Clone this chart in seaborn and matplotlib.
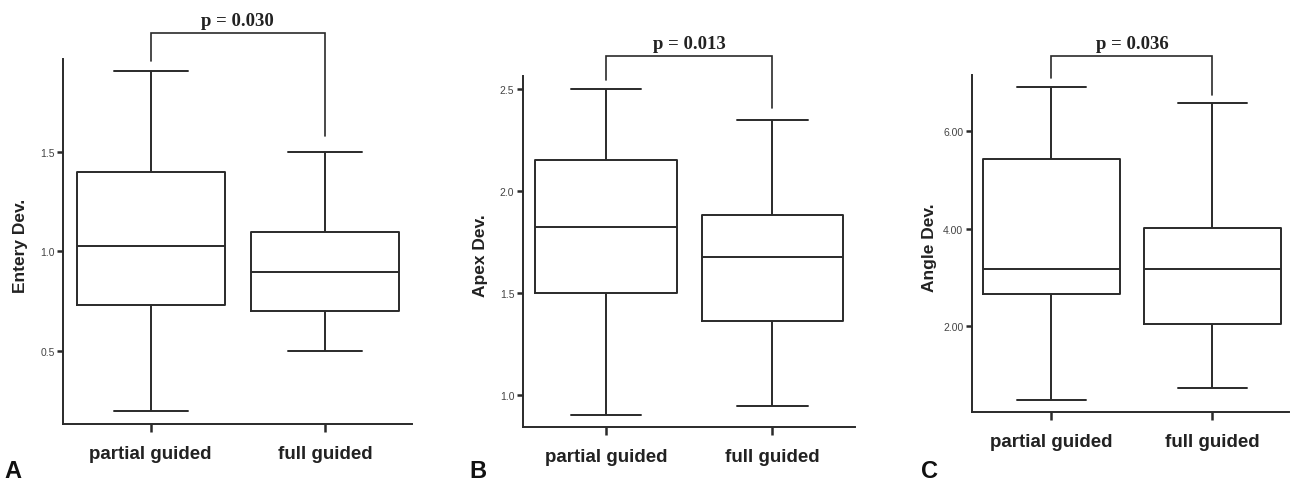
import numpy as np
import pandas as pd
import matplotlib
matplotlib.use("Agg")
import matplotlib.pyplot as plt
import seaborn as sns

# ---------------- data ----------------
categories = ["partial guided", "full guided"]

# five-number summaries (min, Q1, median, Q3, max)
entry_partial = [0.195, 0.730, 1.028, 1.396, 1.904]
entry_full = [0.497, 0.702, 0.898, 1.098, 1.500]

apex_partial = [0.902, 1.500, 1.825, 2.152, 2.500]
apex_full = [0.946, 1.361, 1.675, 1.882, 2.349]

angle_partial = [0.493, 2.667, 3.176, 5.427, 6.900]
angle_full = [0.738, 2.040, 3.176, 4.020, 6.560]

p_labels = ["p = 0.030", "p = 0.013", "p = 0.036"]
y_labels = ["Entery Dev.", "Apex Dev.", "Angle Dev."]
panel_letters = ["A", "B", "C"]

ytick_vals = [[0.5, 1.0, 1.5], [1.0, 1.5, 2.0, 2.5], [2.0, 4.0, 6.0]]
ytick_text = [["0.5", "1.0", "1.5"], ["1.0", "1.5", "2.0", "2.5"], ["2.00", "4.00", "6.00"]]

# ---------------- layout ----------------
sns.set_theme(style="ticks")
plt.rcParams["font.family"] = ["Liberation Sans", "DejaVu Sans"]

W, H = 1290, 485
fig = plt.figure(figsize=(W / 100, H / 100), dpi=100)
fig.patch.set_facecolor("white")

# axes rectangles in pixels: left, right, top, bottom
rects_px = [(63, 412, 60, 425), (522.7, 855, 76.7, 427.7), (971.7, 1289, 76, 412.7)]
ylims = [(0.132, 1.966), (0.843, 2.565), (0.254, 7.139)]
xlims = [(-0.503, 1.499), (-0.500, 1.497), (-0.495, 1.475)]
# bracket: top, left-leg bottom, right-leg bottom (data units)
brackets = [(2.095, 1.954, 1.580), (2.660, 2.546, 2.405), (7.534, 7.080, 6.740)]
letter_pos = [(4, 478), (469, 478), (921, 478)]

series = [(entry_partial, entry_full), (apex_partial, apex_full), (angle_partial, angle_full)]
line_col = "#2a2a2a"

for i, (pa, fu) in enumerate(series):
    l, r, t, b = rects_px[i]
    ax = fig.add_axes([l / W, (H - b) / H, (r - l) / W, (b - t) / H])
    ax.set_facecolor("white")
    df = pd.DataFrame({
        "group": [categories[0]] * len(pa) + [categories[1]] * len(fu),
        "value": list(pa) + list(fu),
    })
    sns.boxplot(data=df, x="group", y="value", order=categories, ax=ax,
                whis=(0, 100), width=0.85, fill=False, color=line_col,
                linecolor=line_col, linewidth=1.4, showfliers=False)
    ax.set_xlim(*xlims[i])
    ax.set_ylim(*ylims[i])
    sns.despine(ax=ax)
    for s in ["left", "bottom"]:
        ax.spines[s].set_linewidth(1.4)
        ax.spines[s].set_color(line_col)

    ax.set_yticks(ytick_vals[i])
    ax.set_yticklabels(ytick_text[i])
    ax.tick_params(axis="y", length=4, width=1.8, color=line_col, pad=2,
                   labelsize=7.5, labelcolor="#444444")
    ax.tick_params(axis="x", length=6, width=1.8, color=line_col, pad=9,
                   labelsize=13.5, labelcolor="#222222")
    for lab in ax.get_xticklabels():
        lab.set_fontweight("bold")
    ax.set_xlabel("")
    ax.set_ylabel(y_labels[i], fontsize=12.5, fontweight="bold", color="#222222")
    ax.yaxis.set_label_coords(-35 / (r - l), 0.49)

    top, lb, rb = brackets[i]
    ax.plot([0, 0, 1, 1], [lb, top, top, rb], color=line_col, lw=1.2,
            clip_on=False, solid_joinstyle="miter")
    ax.annotate(p_labels[i], xy=(0.5, top), xytext=(0, 3), textcoords="offset points",
                ha="center", va="bottom", fontsize=13.5, fontweight="bold",
                family="Liberation Serif", color="#222222", annotation_clip=False)

    lx, ly = letter_pos[i]
    fig.text(lx / W, (H - ly) / H, panel_letters[i], fontsize=17, fontweight="bold",
             ha="left", va="baseline", color="#111111")

fig.savefig("out.png", dpi=100, facecolor="white")
